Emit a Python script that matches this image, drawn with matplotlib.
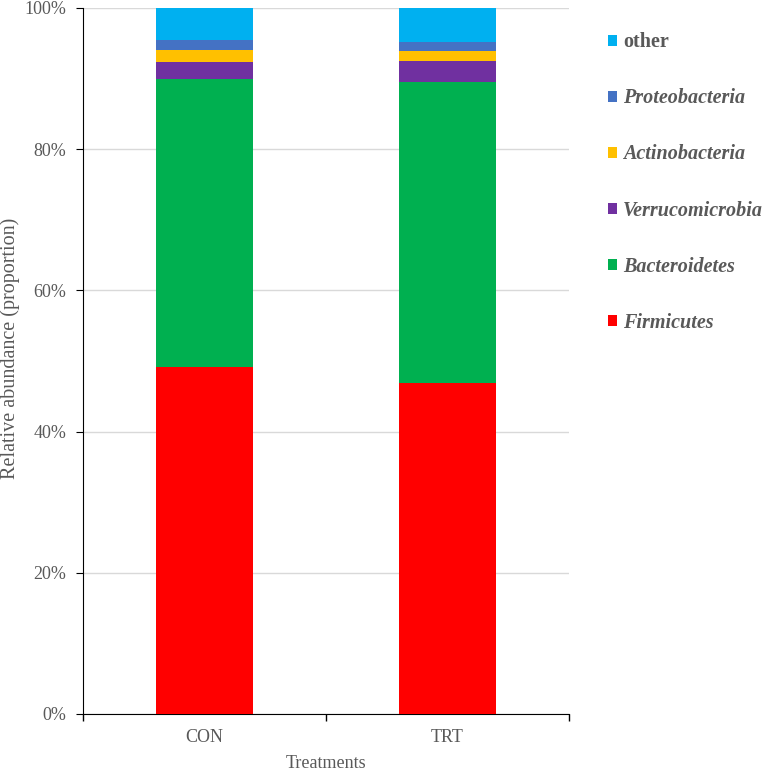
import numpy as np
import matplotlib
matplotlib.use("Agg")
import matplotlib.pyplot as plt
from matplotlib.ticker import PercentFormatter

plt.rcParams['font.family'] = ['Liberation Serif', 'DejaVu Serif']

treatments = ['CON', 'TRT']
phyla = ['Firmicutes', 'Bacteroidetes', 'Verrucomicrobia', 'Actinobacteria', 'Proteobacteria', 'other']
colors = ['#ff0000', '#00b050', '#7030a0', '#ffc000', '#4472c4', '#00b0f0']
# percent values per treatment (CON, TRT)
firmicutes = [49.1, 46.9]
bacteroidetes = [40.8, 42.65]
verrucomicrobia = [2.45, 2.9]
actinobacteria = [1.65, 1.4]
proteobacteria = [1.4, 1.4]
other = [4.6, 4.75]
values = [firmicutes, bacteroidetes, verrucomicrobia, actinobacteria, proteobacteria, other]

grey = '#595959'

fig = plt.figure(figsize=(7.68, 7.73), dpi=100)
ax = fig.add_axes([83 / 768, (773 - 714) / 773, (569 - 83) / 768, (714 - 8) / 773])

x = np.arange(len(treatments))
bottom = np.zeros(len(treatments))
handles = []
for name, vals, c in zip(phyla, values, colors):
    b = ax.bar(x, vals, 0.4, bottom=bottom, color=c, label=name, zorder=3)
    handles.append(b)
    bottom += np.array(vals)

ax.set_xlim(-0.5, 1.5)
ax.set_ylim(0, 100)
ax.set_yticks(np.arange(0, 101, 20))
ax.yaxis.set_major_formatter(PercentFormatter(decimals=0))
ax.grid(axis='y', color='#d9d9d9', linewidth=1, zorder=0)
ax.set_xticks(x)
ax.set_xticklabels(treatments)
ax.set_xticks([-0.5, 0.5, 1.5], minor=True)
ax.tick_params(axis='x', which='major', length=0, pad=11, labelsize=13, labelcolor=grey)
ax.tick_params(axis='x', which='minor', length=5, direction='out', width=1)
ax.tick_params(axis='y', length=5, direction='out', labelsize=13, labelcolor=grey, pad=7)
for s in ['top', 'right']:
    ax.spines[s].set_visible(False)
ax.spines['left'].set_color('black')
ax.spines['bottom'].set_color('black')

ax.set_xlabel('Treatments', fontsize=13, color=grey)
ax.xaxis.set_label_coords(0.5, (714 - 764) / 706, transform=ax.transAxes)
ax.xaxis.label.set_va('center')
ax.set_ylabel('Relative abundance (proportion)', fontsize=14.5, color=grey)
ax.yaxis.set_label_coords((10 - 83) / 486, (714 - 348) / 706)
ax.yaxis.label.set_va('center')

leg = fig.legend(handles[::-1], phyla[::-1], loc='center left',
                 bbox_to_anchor=(608 / 768, 1 - 182.5 / 773), frameon=False,
                 borderpad=0, borderaxespad=0,
                 handlelength=0.45, handleheight=0.45, handletextpad=0.3,
                 labelspacing=1.79, fontsize=14.5)
for t in leg.get_texts():
    t.set_color(grey)
    t.set_fontweight('bold')
    if t.get_text() != 'other':
        t.set_fontstyle('italic')

fig.savefig('out.png', dpi=100)
